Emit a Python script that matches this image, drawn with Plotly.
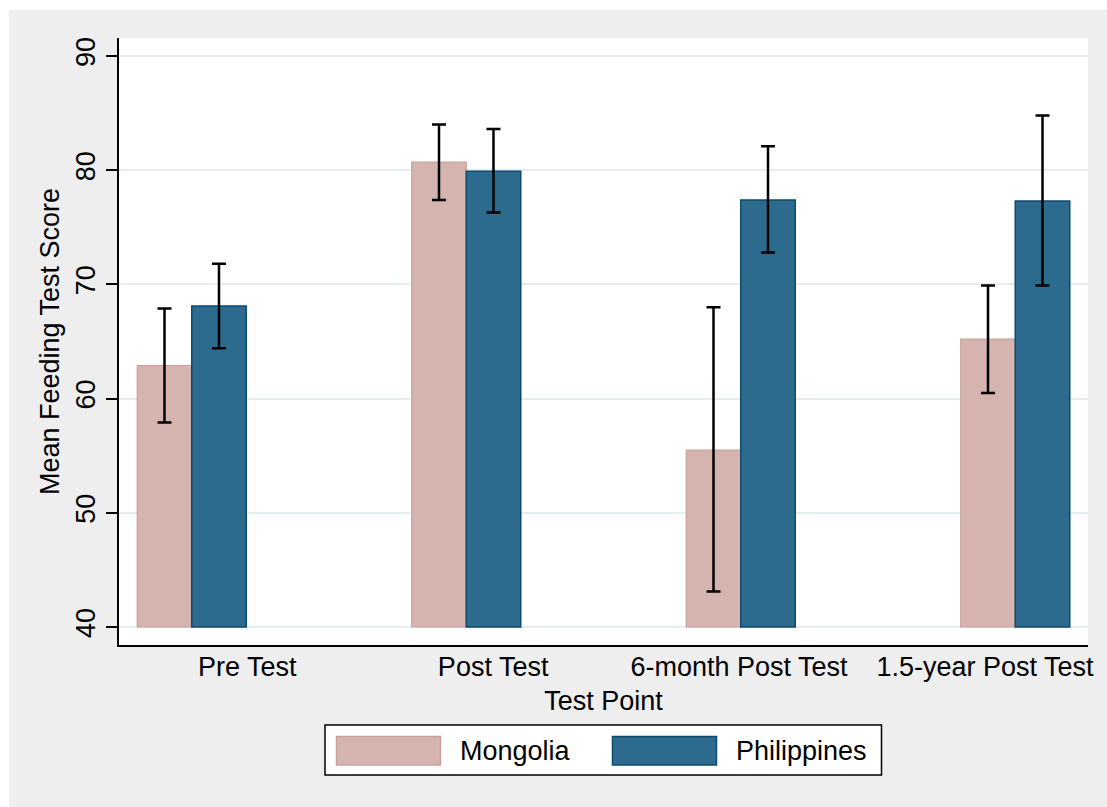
import plotly.graph_objects as go

# ---- data ----
test_points = ["Pre Test", "Post Test", "6-month Post Test", "1.5-year Post Test"]
countries = ["Mongolia", "Philippines"]
mongolia_mean = [62.9, 80.7, 55.5, 65.2]
mongolia_hi = [67.9, 84.0, 68.0, 69.9]
mongolia_lo = [57.9, 77.4, 43.1, 60.5]
philippines_mean = [68.1, 79.9, 77.4, 77.3]
philippines_hi = [71.8, 83.6, 82.1, 84.8]
philippines_lo = [64.4, 76.3, 72.8, 69.9]
y_ticks = [40, 50, 60, 70, 80, 90]
bar_base = 40

# ---- style ----
W, H = 1107, 807
ML, MR, MT, MB = 119, 19, 38, 162
PW, PH = W - ML - MR, H - MT - MB
FONT = "Liberation Sans, Arial, sans-serif"
FS = 27
BG = "#eeeeee"
C_MON, C_MON_EDGE = "#d5b3af", "#c9a09b"
C_PHI, C_PHI_EDGE = "#2c6b8e", "#0c4a72"


def px(x):
    return (x - ML) / PW


def py(y):
    return (H - MB - y) / PH


fig = go.Figure()

series = [
    ("Mongolia", mongolia_mean, mongolia_hi, mongolia_lo, C_MON, C_MON_EDGE, 1.2),
    ("Philippines", philippines_mean, philippines_hi, philippines_lo, C_PHI, C_PHI_EDGE, 1.5),
]
for name, mean, hi, lo, col, edge, lw in series:
    fig.add_trace(go.Bar(
        x=test_points,
        y=[m - bar_base for m in mean],
        base=bar_base,
        name=name,
        marker=dict(color=col, line=dict(color=edge, width=lw)),
        error_y=dict(type="data", symmetric=False,
                     array=[h - m for h, m in zip(hi, mean)],
                     arrayminus=[m - l for m, l in zip(mean, lo)],
                     color="black", thickness=2.5, width=7),
        showlegend=False,
    ))

# invisible trace to carry category labels on the secondary x axis
fig.add_trace(go.Scatter(x=test_points, y=[bar_base] * len(test_points), xaxis="x2",
                         mode="markers", marker=dict(opacity=0), hoverinfo="skip",
                         showlegend=False))

fig.update_layout(
    width=W, height=H,
    margin=dict(l=ML, r=MR, t=MT, b=MB, autoexpand=False),
    paper_bgcolor=BG, plot_bgcolor="white",
    font=dict(family=FONT, size=FS, color="black"),
    barmode="group", bargap=0.603, bargroupgap=0,
    xaxis=dict(type="category", range=[-0.265, 3.265], showticklabels=False,
               ticks="", showgrid=False, showline=True, linecolor="black",
               linewidth=1.5, zeroline=False),
    xaxis2=dict(type="category", overlaying="x", side="bottom", anchor="y",
                range=[-0.5215, 3.419], ticks="", ticklabelstandoff=3,
                showgrid=False, showline=False, zeroline=False,
                title=dict(text="Test Point", standoff=10,
                           font=dict(family=FONT, size=FS))),
    yaxis=dict(range=[38.424, 91.576], tickvals=y_ticks, tickangle=-90,
               ticks="outside", ticklen=11, tickwidth=1.5, tickcolor="black",
               showline=True, linecolor="black", linewidth=1.5,
               showgrid=True, gridcolor="#e4eeee", gridwidth=1.6,
               zeroline=False,
               title=dict(text="Mean Feeding Test Score", standoff=4,
                          font=dict(family=FONT, size=FS))),
)

# ---- outer white border of the graph region ----
shapes = [
    dict(type="rect", xref="paper", yref="paper", x0=px(0), x1=px(9), y0=py(H), y1=py(0),
         fillcolor="white", line=dict(width=0), layer="below"),
    dict(type="rect", xref="paper", yref="paper", x0=px(0), x1=px(W), y0=py(10), y1=py(0),
         fillcolor="white", line=dict(width=0), layer="below"),
]

# ---- legend (drawn manually to match large swatches) ----
shapes.append(dict(type="rect", xref="paper", yref="paper", x0=px(325), x1=px(881.5),
                   y0=py(775), y1=py(725), fillcolor="white",
                   line=dict(color="black", width=1.5)))
legend_items = [
    (countries[0], C_MON, C_MON_EDGE, 336.5, 458),
    (countries[1], C_PHI, C_PHI_EDGE, 612.5, 733.5),
]
annotations = []
for name, col, edge, sx, tx in legend_items:
    shapes.append(dict(type="rect", xref="paper", yref="paper", x0=px(sx), x1=px(sx + 104),
                       y0=py(765), y1=py(736.5), fillcolor=col,
                       line=dict(color=edge, width=1.5)))
    annotations.append(dict(text=name, xref="paper", yref="paper", x=px(tx), y=py(751),
                            xanchor="left", yanchor="middle", showarrow=False,
                            font=dict(family=FONT, size=FS, color="black")))

fig.update_layout(shapes=shapes, annotations=annotations)

fig.write_html("out.html", config={"displayModeBar": False},
               post_script="document.body.style.margin='0px';")
